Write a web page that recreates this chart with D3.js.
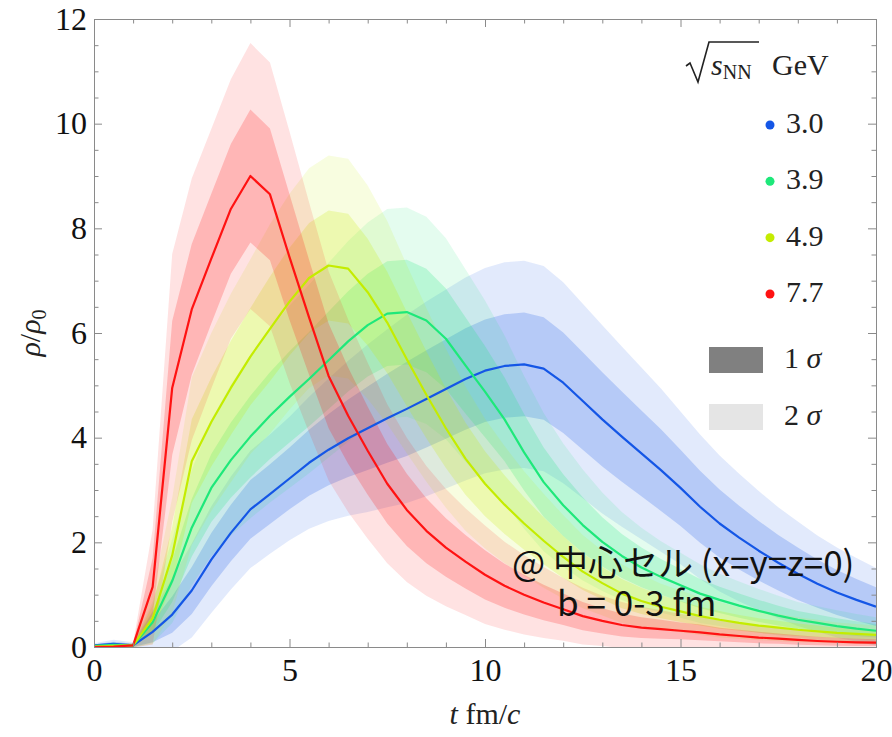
<!DOCTYPE html>
<html>
<head>
<meta charset="utf-8">
<script src="https://cdn.jsdelivr.net/npm/d3@7"></script>
<style>
  body { margin: 0; background: #fff; }
  svg { display: block; }
  .serif { font-family: "Liberation Serif", "DejaVu Serif", serif; }
  .note { font-family: "Noto Sans CJK JP", "Noto Sans", sans-serif; }
</style>
</head>
<body>
<div id="chart"></div>
<script>
// time grid, fm/c
const times = [0, 0.5, 1, 1.5, 2, 2.5, 3, 3.5, 4, 4.5, 5, 5.5, 6, 6.5, 7, 7.5, 8, 8.5, 9, 9.5,
  10, 10.5, 11, 11.5, 12, 12.5, 13, 13.5, 14, 14.5, 15, 15.5, 16, 16.5, 17, 17.5, 18, 18.5, 19, 19.5, 20]

const energies = ["3.0", "3.9", "4.9", "7.7"]
const colors = ["#1456e6", "#1ee87a", "#c4ec00", "#ff1212"]

// mean rho/rho0 at the central cell
const mean30 = [0.03, 0.06, 0.03, 0.29, 0.62, 1.08, 1.67, 2.18, 2.63, 2.92, 3.22, 3.52, 3.77, 3.99, 4.18, 4.37, 4.55, 4.74, 4.93, 5.12,
  5.28, 5.37, 5.4, 5.32, 5.05, 4.7, 4.35, 4.02, 3.7, 3.38, 3.04, 2.68, 2.36, 2.09, 1.84, 1.61, 1.4, 1.21, 1.04, 0.9, 0.77]
const mean39 = [0.02, 0.04, 0.03, 0.47, 1.26, 2.28, 3.04, 3.57, 4.02, 4.42, 4.78, 5.12, 5.48, 5.84, 6.15, 6.37, 6.4, 6.24, 5.89, 5.38,
  4.88, 4.35, 3.72, 3.15, 2.71, 2.33, 2.01, 1.74, 1.52, 1.34, 1.18, 1.02, 0.9, 0.79, 0.69, 0.6, 0.52, 0.46, 0.4, 0.35, 0.31]
const mean49 = [0.01, 0.02, 0.03, 0.55, 1.75, 3.55, 4.3, 4.95, 5.55, 6.08, 6.6, 7.05, 7.29, 7.23, 6.78, 6.2, 5.5, 4.82, 4.18, 3.6,
  3.12, 2.72, 2.36, 2.03, 1.72, 1.44, 1.22, 1.02, 0.88, 0.77, 0.68, 0.59, 0.52, 0.46, 0.41, 0.37, 0.33, 0.3, 0.27, 0.25, 0.23]
const mean77 = [0.0, 0.01, 0.03, 1.15, 4.95, 6.45, 7.42, 8.37, 9.0, 8.65, 7.45, 6.3, 5.18, 4.42, 3.75, 3.12, 2.62, 2.22, 1.9, 1.63,
  1.38, 1.17, 1.0, 0.85, 0.72, 0.59, 0.5, 0.42, 0.37, 0.34, 0.31, 0.28, 0.24, 0.21, 0.18, 0.16, 0.135, 0.115, 0.1, 0.09, 0.083]

// standard deviation of the event sample
const sd30 = [0.02, 0.04, 0.03, 0.2, 0.35, 0.45, 0.51, 0.54, 0.56, 0.57, 0.59, 0.63, 0.68, 0.74, 0.8, 0.85, 0.9, 0.93, 0.95, 0.97,
  0.98, 0.99, 0.99, 0.98, 0.96, 0.93, 0.9, 0.86, 0.82, 0.78, 0.73, 0.69, 0.65, 0.61, 0.57, 0.53, 0.5, 0.46, 0.43, 0.4, 0.37]
const sd39 = [0.01, 0.02, 0.02, 0.2, 0.4, 0.55, 0.65, 0.72, 0.78, 0.83, 0.87, 0.9, 0.93, 0.96, 0.98, 1.0, 1.0, 0.99, 0.96, 0.92,
  0.87, 0.8, 0.73, 0.66, 0.59, 0.53, 0.47, 0.42, 0.38, 0.34, 0.31, 0.28, 0.25, 0.23, 0.21, 0.19, 0.17, 0.16, 0.15, 0.14, 0.13]
const sd49 = [0.005, 0.01, 0.02, 0.25, 0.55, 0.8, 0.85, 0.9, 0.93, 1.0, 1.03, 1.05, 1.05, 1.05, 1.02, 0.97, 0.9, 0.83, 0.76, 0.69,
  0.62, 0.56, 0.5, 0.45, 0.4, 0.35, 0.31, 0.28, 0.25, 0.22, 0.2, 0.18, 0.17, 0.15, 0.14, 0.13, 0.12, 0.11, 0.1, 0.095, 0.09]
const sd77 = [0.005, 0.01, 0.02, 0.55, 1.28, 1.25, 1.24, 1.24, 1.27, 1.26, 1.2, 1.1, 1.0, 0.92, 0.84, 0.76, 0.69, 0.62, 0.56, 0.51,
  0.47, 0.42, 0.38, 0.34, 0.3, 0.27, 0.24, 0.22, 0.2, 0.18, 0.16, 0.15, 0.13, 0.12, 0.11, 0.1, 0.09, 0.08, 0.075, 0.07, 0.065]

const xMajor = [0, 5, 10, 15, 20]
const yMajor = [0, 2, 4, 6, 8, 10, 12]

const means = [mean30, mean39, mean49, mean77]
const sds = [sd30, sd39, sd49, sd77]
const series = energies.map((e, i) => ({
  label: e,
  color: colors[i],
  points: times.map((t, j) => ({ t: t, m: means[i][j], s: sds[i][j] }))
}))

const width = 892, height = 737
const plotLeft = 94, plotRight = 876, plotTop = 19, plotBottom = 647

const svg = d3.select("#chart").append("svg")
  .attr("width", width)
  .attr("height", height)

svg.append("rect").attr("width", width).attr("height", height).attr("fill", "#fff")

const x = d3.scaleLinear().domain([0, 20]).range([plotLeft, plotRight])
const y = d3.scaleLinear().domain([0, 12]).range([plotBottom, plotTop])

svg.append("clipPath").attr("id", "plot-clip")
  .append("rect")
  .attr("x", plotLeft).attr("y", plotTop)
  .attr("width", plotRight - plotLeft).attr("height", plotBottom - plotTop)

const plot = svg.append("g").attr("clip-path", "url(#plot-clip)")

const band = k => d3.area()
  .x(d => x(d.t))
  .y0(d => y(d.m - k * d.s))
  .y1(d => y(d.m + k * d.s))

// 2 sigma then 1 sigma for every energy
series.forEach(s => {
  plot.append("path").datum(s.points)
    .attr("d", band(2))
    .attr("fill", s.color)
    .attr("fill-opacity", 0.12)
  plot.append("path").datum(s.points)
    .attr("d", band(1))
    .attr("fill", s.color)
    .attr("fill-opacity", 0.21)
})

const line = d3.line().x(d => x(d.t)).y(d => y(d.m))
series.forEach(s => {
  plot.append("path").datum(s.points)
    .attr("d", line)
    .attr("fill", "none")
    .attr("stroke", s.color)
    .attr("stroke-width", 2.2)
    .attr("stroke-linejoin", "round")
})

// frame with inward ticks on all four sides
const xMinor = d3.range(0, 21, 1).filter(v => !xMajor.includes(v))
const yMinor = d3.range(0, 12.01, 0.5).filter(v => !yMajor.includes(v))
const frameColor = "#8a8a8a"

function styleAxis(g, labels) {
  g.select(".domain").attr("stroke", frameColor)
  g.selectAll(".tick line").attr("stroke", frameColor)
  g.selectAll("text")
    .attr("class", "serif")
    .attr("font-size", labels ? 32 : 0)
    .attr("fill", "#111")
}

function frameSide(axisFn, scale, pos, labels, pad) {
  const minor = svg.append("g").attr("transform", pos)
    .call(axisFn(scale).tickValues(scale === x ? xMinor : yMinor).tickSize(-4.5).tickFormat(""))
  styleAxis(minor, false)
  const major = svg.append("g").attr("transform", pos)
    .call(axisFn(scale).tickValues(scale === x ? xMajor : yMajor).tickSize(-8).tickPadding(pad)
      .tickFormat(labels ? d3.format("d") : ""))
  styleAxis(major, labels)
}

frameSide(d3.axisBottom, x, `translate(0,${plotBottom})`, true, 11)
frameSide(d3.axisTop, x, `translate(0,${plotTop})`, false, 0)
frameSide(d3.axisLeft, y, `translate(${plotLeft},0)`, true, 7)
frameSide(d3.axisRight, y, `translate(${plotRight},0)`, false, 0)

// axis titles
const xt = svg.append("text").attr("class", "serif")
  .attr("x", (plotLeft + plotRight) / 2).attr("y", 724)
  .attr("text-anchor", "middle").attr("font-size", 30).attr("fill", "#222")
xt.append("tspan").attr("font-style", "italic").text("t")
xt.append("tspan").text(" fm/")
xt.append("tspan").attr("font-style", "italic").text("c")

const yt = svg.append("text").attr("class", "serif")
  .attr("transform", `translate(40,${(plotTop + plotBottom) / 2}) rotate(-90)`)
  .attr("text-anchor", "middle").attr("font-size", 30).attr("fill", "#222")
yt.append("tspan").attr("font-style", "italic").text("ρ")
yt.append("tspan").text("/")
yt.append("tspan").attr("font-style", "italic").text("ρ")
yt.append("tspan").attr("font-size", 20).attr("dy", 6).text("0")

// legend
const lg = svg.append("g").attr("class", "serif").attr("fill", "#222")
lg.append("path")
  .attr("d", "M686,66 L690,63 L698,82 L709,42 L759,42")
  .attr("fill", "none").attr("stroke", "#222").attr("stroke-width", 1.6)
const head = lg.append("text").attr("x", 711).attr("y", 75).attr("font-size", 30)
head.append("tspan").attr("font-style", "italic").text("s")
head.append("tspan").attr("font-size", 20).attr("dy", 4).text("NN")
lg.append("text").attr("x", 772).attr("y", 75).attr("font-size", 30).text("GeV")

const legendY = d3.scalePoint().domain(energies).range([125, 294])
series.forEach(s => {
  lg.append("circle")
    .attr("cx", 770).attr("cy", legendY(s.label))
    .attr("r", 4.5).attr("fill", s.color)
  lg.append("text")
    .attr("x", 786).attr("y", legendY(s.label) + 8)
    .attr("font-size", 30).text(s.label)
})

const sigmas = [{ k: "1", fill: "#808080", y: 347 }, { k: "2", fill: "#e5e5e5", y: 404 }]
sigmas.forEach(d => {
  lg.append("rect")
    .attr("x", 709).attr("y", d.y).attr("width", 54).attr("height", 26)
    .attr("fill", d.fill)
  const t = lg.append("text").attr("x", 784).attr("y", d.y + 21).attr("font-size", 30)
  t.append("tspan").text(d.k + " ")
  t.append("tspan").attr("font-style", "italic").text("σ")
})

// note on the cell and impact parameter
const note = svg.append("g").attr("class", "note").attr("fill", "#111").attr("font-size", 35)
note.append("text").attr("x", 512).attr("y", 576).text("@ 中心セル (x=y=z=0)")
note.append("text").attr("x", 557).attr("y", 616).text("b = 0-3 fm")
</script>
</body>
</html>
